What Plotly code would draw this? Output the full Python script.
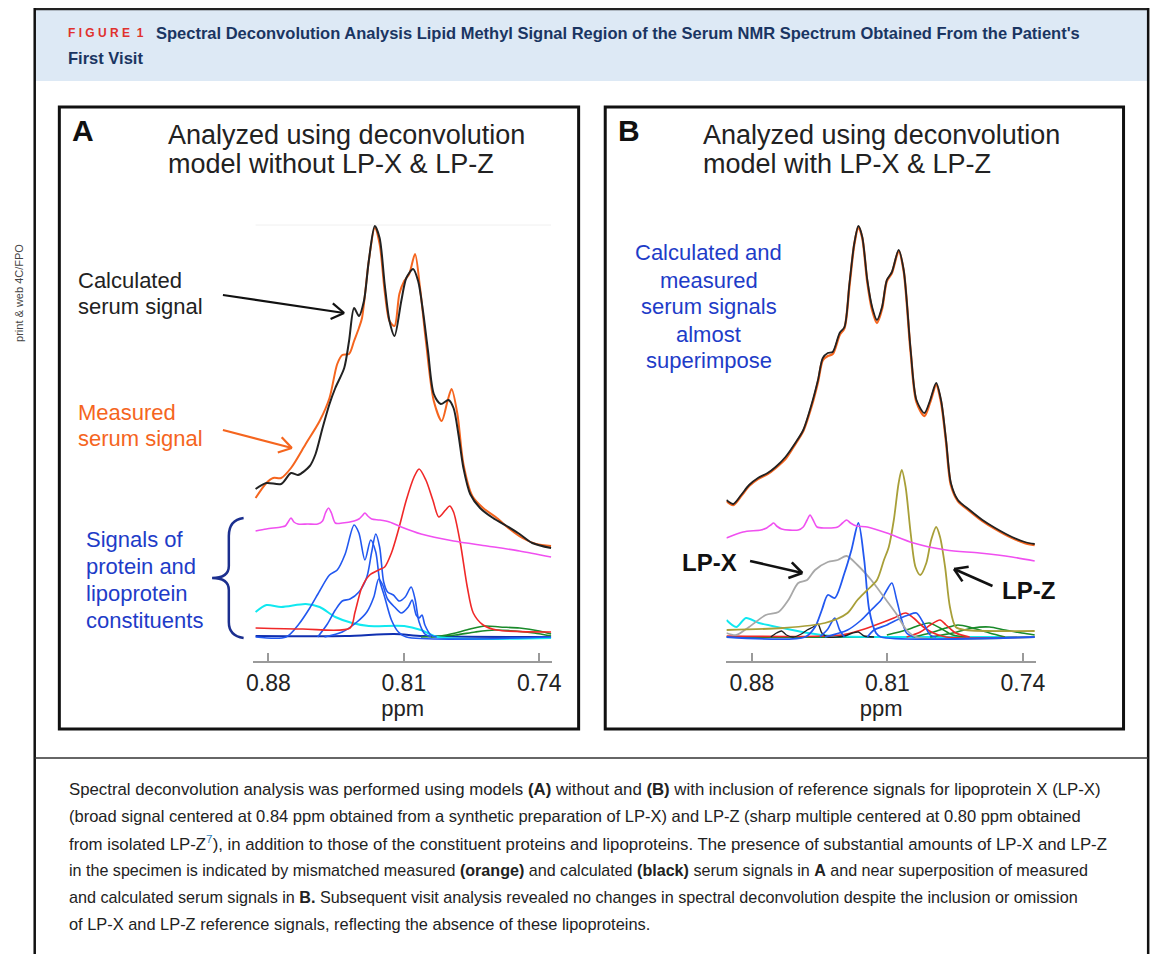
import math
import plotly.graph_objects as go

# the viewer page keeps an 8 px body margin; layout coordinates below are page pixels
OFF = 8
FW, FH = 1162, 954

# ---------------- data: chemical shift (ppm) and intensity (arbitrary units) ----------------
tick_vals = [0.88, 0.81, 0.74]
tick_text = ["0.88", "0.81", "0.74"]

# Panel A (model without LP-X & LP-Z)
A_calc_ppm = [0.8866, 0.8810, 0.8734, 0.8683, 0.8647, 0.8586, 0.8556, 0.8520, 0.8484, 0.8454,
              0.8408, 0.8383, 0.8357, 0.8332, 0.8306, 0.8281, 0.8250, 0.8225, 0.8199, 0.8174,
              0.8148, 0.8113, 0.8087, 0.8052, 0.8026, 0.8001, 0.7975, 0.7945, 0.7909, 0.7869,
              0.7843, 0.7818, 0.7792, 0.7757, 0.7706, 0.7639, 0.7568, 0.7502, 0.7436, 0.7339]
A_calc = [148, 154, 153, 164, 162, 171, 183, 209, 233, 249,
          269, 296, 329, 321, 336, 376, 411, 399, 353, 316,
          301, 336, 359, 368, 356, 326, 286, 243, 233, 237,
          229, 203, 169, 143, 129, 119, 111, 103, 94, 89]

A_meas_ppm = [0.8866, 0.8810, 0.8775, 0.8734, 0.8683, 0.8607, 0.8535, 0.8484, 0.8444, 0.8418,
              0.8383, 0.8357, 0.8332, 0.8316, 0.8281, 0.8250, 0.8225, 0.8199, 0.8174, 0.8148,
              0.8123, 0.8098, 0.8072, 0.8042, 0.8016, 0.7986, 0.7945, 0.7904, 0.7874, 0.7853,
              0.7823, 0.7792, 0.7746, 0.7690, 0.7619, 0.7553, 0.7487, 0.7416, 0.7339]
A_meas = [139, 154, 159, 159, 169, 193, 216, 239, 273, 282,
          283, 296, 309, 319, 376, 409, 393, 346, 316, 311,
          343, 356, 363, 383, 349, 296, 236, 216, 236, 248,
          223, 173, 141, 129, 119, 108, 99, 93, 91]

A_mag_ppm = [0.8866, 0.8810, 0.8734, 0.8713, 0.8698, 0.8683, 0.8668, 0.8647, 0.8596, 0.8545,
             0.8520, 0.8505, 0.8489, 0.8474, 0.8454, 0.8418, 0.8357, 0.8332, 0.8316, 0.8301,
             0.8286, 0.8266, 0.8225, 0.8174, 0.8113, 0.8011, 0.7843, 0.7670, 0.7502, 0.7339]
A_mag = [106, 108, 110, 111, 115, 119, 115, 113, 113, 113,
         116, 124, 129, 124, 114, 114, 116, 118, 121, 124,
         121, 118, 117, 115, 110, 103, 96, 91, 86, 80]

A_red_ppm = [0.8866, 0.8622, 0.8378, 0.8352, 0.8316, 0.8276, 0.8230, 0.8199, 0.8164, 0.8128,
             0.8087, 0.8047, 0.8021, 0.7986, 0.7950, 0.7919, 0.7884, 0.7863, 0.7843, 0.7808,
             0.7772, 0.7741, 0.7690, 0.7619, 0.7339]
A_red = [9, 8, 9, 25, 50, 62, 67, 70, 84, 107,
         137, 160, 168, 157, 137, 120, 127, 131, 125, 94,
         50, 24, 12, 7, 5]

A_cyan_ppm = [0.8866, 0.8810, 0.8734, 0.8607, 0.8535, 0.8454, 0.8367, 0.8281, 0.8098, 0.8011,
              0.7925, 0.7339]
A_cyan = [25, 32, 30, 33, 30, 20, 14, 11, 11, 7, 0, -1]

A_blue1_ppm = [0.8866, 0.8708, 0.8642, 0.8586, 0.8535, 0.8484, 0.8444, 0.8403, 0.8357, 0.8332,
               0.8301, 0.8271, 0.8245, 0.8225, 0.8199, 0.8164, 0.8128, 0.8087, 0.7339]
A_blue1 = [0, 0, 13, 29, 46, 62, 67, 83, 112, 104,
           77, 97, 85, 57, 40, 17, 5, 0, 0]

A_blue2_ppm = [0.8545, 0.8495, 0.8454, 0.8418, 0.8378, 0.8332, 0.8291, 0.8266, 0.8245, 0.8225,
               0.8204, 0.8184, 0.8154, 0.8123, 0.8093, 0.8062, 0.8042, 0.8021, 0.7991, 0.7960]
A_blue2 = [0, 13, 27, 36, 38, 45, 60, 85, 103, 90,
           55, 45, 42, 36, 40, 50, 38, 15, 3, 0]

A_blue3_ppm = [0.8510, 0.8418, 0.8342, 0.8291, 0.8255, 0.8230, 0.8209, 0.8184, 0.8148, 0.8113,
               0.8077, 0.8057, 0.8036, 0.8021, 0.8006, 0.7991, 0.7960, 0.7930]
A_blue3 = [0, 5, 15, 25, 40, 58, 52, 38, 30, 24,
           30, 37, 22, 19, 22, 12, 2, 0]

A_base_ppm = [0.8866, 0.8400, 0.8150, 0.8000, 0.7339]
A_base = [1, 1, 3, 1, 0]

A_green1_ppm = [0.8011, 0.7909, 0.7833, 0.7757, 0.7680, 0.7604, 0.7502, 0.7400, 0.7339]
A_green1 = [0, 1, 4, 8, 11, 10, 9, 6, 3]
A_green2_ppm = [0.7960, 0.7833, 0.7731, 0.7629, 0.7527, 0.7426, 0.7339]
A_green2 = [0, 2, 5, 7, 6, 4, 1]

# faint frame line at the top of panel A's trace area
A_top_ppm = [0.8866, 0.7339]
A_top = [412, 412]

# Panel B (model with LP-X & LP-Z)
B_calc_ppm = [0.8932, 0.8897, 0.8856, 0.8815, 0.8769, 0.8719, 0.8678, 0.8627, 0.8576, 0.8535,
              0.8490, 0.8459, 0.8434, 0.8408, 0.8383, 0.8347, 0.8322, 0.8296, 0.8271, 0.8250,
              0.8230, 0.8204, 0.8179, 0.8154, 0.8128, 0.8103, 0.8077, 0.8042, 0.8016, 0.7980,
              0.7950, 0.7909, 0.7879, 0.7848, 0.7823, 0.7797, 0.7772, 0.7736, 0.7675, 0.7609,
              0.7543, 0.7456, 0.7390, 0.7339]
B_calc = [137, 133, 142, 152, 159, 164, 170, 180, 194, 207,
          234, 257, 279, 284, 285, 304, 310, 354, 394, 411,
          400, 357, 330, 317, 330, 357, 365, 387, 367, 287,
          237, 224, 237, 254, 237, 197, 154, 137, 127, 117,
          109, 100, 95, 93]
B_meas_ppm = [0.8932, 0.8897, 0.8856, 0.8815, 0.8769, 0.8719, 0.8678, 0.8627, 0.8576, 0.8535,
              0.8490, 0.8459, 0.8434, 0.8408, 0.8383, 0.8347, 0.8322, 0.8296, 0.8271, 0.8250,
              0.8230, 0.8204, 0.8179, 0.8154, 0.8128, 0.8103, 0.8077, 0.8042, 0.8016, 0.7980,
              0.7950, 0.7909, 0.7879, 0.7848, 0.7823, 0.7797, 0.7772, 0.7736, 0.7675, 0.7609,
              0.7543, 0.7456, 0.7390, 0.7339]
B_meas = [136, 132, 141, 151, 158, 163, 169, 178, 193, 206,
          232, 255, 277, 281, 283, 302, 309, 352, 393, 410,
          399, 355, 327, 314, 328, 356, 364, 386, 366, 285,
          235, 221, 235, 252, 235, 195, 152, 136, 126, 116,
          108, 99, 94, 92]

B_mag_ppm = [0.8932, 0.8846, 0.8754, 0.8724, 0.8703, 0.8688, 0.8673, 0.8647, 0.8561, 0.8535,
             0.8515, 0.8500, 0.8484, 0.8464, 0.8423, 0.8357, 0.8332, 0.8311, 0.8291, 0.8260,
             0.8204, 0.8103, 0.7965, 0.7797, 0.7624, 0.7456, 0.7339]
B_mag = [99, 105, 107, 109, 112, 114, 111, 108, 107, 110,
         117, 122, 117, 110, 109, 110, 114, 117, 114, 111,
         110, 104, 94, 87, 84, 80, 76]

B_lpx_ppm = [0.8932, 0.8881, 0.8815, 0.8729, 0.8663, 0.8612, 0.8561, 0.8515, 0.8474, 0.8408,
             0.8357, 0.8311, 0.8255, 0.8184, 0.8118, 0.8057, 0.8001, 0.7950, 0.7339]
B_lpx = [4, 2, 10, 22, 25, 37, 54, 57, 67, 75,
         77, 81, 72, 57, 40, 24, 7, 0, 0]

B_lpz_ppm = [0.8932, 0.8642, 0.8423, 0.8306, 0.8255, 0.8204, 0.8154, 0.8118, 0.8093, 0.8067,
             0.8042, 0.8026, 0.8006, 0.7980, 0.7955, 0.7930, 0.7899, 0.7874, 0.7848, 0.7828,
             0.7802, 0.7777, 0.7747, 0.7695, 0.7339]
B_lpz = [7, 9, 14, 24, 37, 47, 57, 77, 90, 117,
         154, 167, 150, 104, 70, 62, 74, 97, 110, 100,
         70, 30, 10, 7, 6]

B_blue1_ppm = [0.8932, 0.8525, 0.8474, 0.8439, 0.8408, 0.8372, 0.8322, 0.8286, 0.8250, 0.8220,
               0.8194, 0.8159, 0.8133, 0.7339]
B_blue1 = [0, 0, 10, 27, 42, 39, 64, 87, 114, 77, 27, 4, 0, 0]

B_blue2_ppm = [0.8423, 0.8306, 0.8235, 0.8184, 0.8133, 0.8103, 0.8077, 0.8052, 0.8026, 0.8001, 0.7965]
B_blue2 = [0, 7, 17, 27, 37, 47, 54, 37, 17, 4, 0]

B_blue3_ppm = [0.8449, 0.8408, 0.8372, 0.8347, 0.8322]
B_blue3 = [0, 8, 19, 7, 0]

B_blue4_ppm = [0.8204, 0.8169, 0.8103, 0.8031, 0.7991, 0.7950, 0.7914, 0.7879, 0.7848]
B_blue4 = [0, 7, 12, 19, 22, 24, 14, 2, 0]

B_red1_ppm = [0.8932, 0.8337, 0.8235, 0.8133, 0.8067, 0.8006, 0.7965, 0.7914, 0.7863, 0.7797, 0.7339]
B_red1 = [1, 2, 7, 14, 19, 24, 19, 10, 4, 0, 0]
B_red2_ppm = [0.8001, 0.7930, 0.7879, 0.7828, 0.7797, 0.7747, 0.7675]
B_red2 = [0, 5, 12, 17, 12, 4, 0]

B_green1_ppm = [0.8103, 0.8001, 0.7930, 0.7884, 0.7828, 0.7762, 0.7695]
B_green1 = [2, 7, 12, 14, 9, 2, 0]
B_green2_ppm = [0.7965, 0.7879, 0.7797, 0.7736, 0.7660, 0.7573, 0.7492]
B_green2 = [0, 4, 9, 12, 9, 4, 0]
B_green3_ppm = [0.7879, 0.7762, 0.7660, 0.7573, 0.7492, 0.7405, 0.7339]
B_green3 = [0, 4, 9, 10, 7, 4, 2]
B_gbase_ppm = [0.8932, 0.7339]
B_gbase = [0, 0]

B_blk_ppm = [0.8703, 0.8673, 0.8647, 0.8622, 0.8586, 0.8545, 0.8515, 0.8484, 0.8459, 0.8439,
             0.8408, 0.8322, 0.8281, 0.8250, 0.8220, 0.8169]
B_blk = [0, 4, 6, 2, 0, 3, 7, 10, 13, 4, 0, 1, 4, 5, 1, 0]

B_cyan_ppm = [0.8932, 0.8881, 0.8831, 0.8764, 0.8642, 0.8510, 0.8388, 0.8133, 0.7339]
B_cyan = [17, 10, 19, 14, 9, 4, 1, 0, 0]

# ---------------- colours ----------------
C_BLACK = "#222222"
C_ORANGE = "#F5651E"
C_MAG = "#F050F0"
C_RED = "#F02828"
C_BLUE = "#2258F0"
C_DBLUE = "#1030B0"
C_CYAN = "#10E8F0"
C_GREEN = "#1A8A2A"
C_GRAY = "#A8A8A8"
C_OLIVE = "#A89F38"
C_TXTBLUE = "#1E3CC8"

fig = go.Figure()


def add(ppm, val, color, width, panel, shape="spline"):
    xa, ya = ("x", "y") if panel == "A" else ("x2", "y2")
    fig.add_trace(go.Scatter(x=ppm, y=val, mode="lines", xaxis=xa, yaxis=ya,
                             line=dict(color=color, width=width, shape=shape, smoothing=0.8),
                             hoverinfo="skip", showlegend=False))


# panel A traces
add(A_top_ppm, A_top, "#F0F0F0", 1, "A", "linear")
add(A_base_ppm, A_base, C_DBLUE, 2, "A")
add(A_green1_ppm, A_green1, C_GREEN, 1.6, "A")
add(A_green2_ppm, A_green2, C_GREEN, 1.6, "A")
add(A_cyan_ppm, A_cyan, C_CYAN, 2, "A")
add(A_blue3_ppm, A_blue3, C_BLUE, 1.6, "A")
add(A_blue2_ppm, A_blue2, C_BLUE, 1.6, "A")
add(A_blue1_ppm, A_blue1, C_BLUE, 1.6, "A")
add(A_red_ppm, A_red, C_RED, 1.6, "A")
add(A_mag_ppm, A_mag, C_MAG, 1.6, "A")
add(A_meas_ppm, A_meas, C_ORANGE, 2, "A")
add(A_calc_ppm, A_calc, C_BLACK, 2, "A")

# panel B traces
add(B_gbase_ppm, B_gbase, C_GREEN, 2, "B")
add(B_cyan_ppm, B_cyan, C_CYAN, 2, "B")
add(B_green1_ppm, B_green1, C_GREEN, 1.6, "B")
add(B_green2_ppm, B_green2, C_GREEN, 1.6, "B")
add(B_green3_ppm, B_green3, C_GREEN, 1.6, "B")
add(B_red1_ppm, B_red1, C_RED, 1.6, "B")
add(B_red2_ppm, B_red2, C_RED, 1.6, "B")
add(B_blk_ppm, B_blk, C_BLACK, 1.4, "B")
add(B_blue3_ppm, B_blue3, C_BLUE, 1.6, "B")
add(B_blue4_ppm, B_blue4, C_BLUE, 1.6, "B")
add(B_blue2_ppm, B_blue2, C_BLUE, 1.6, "B")
add(B_lpx_ppm, B_lpx, C_GRAY, 1.8, "B")
add(B_blue1_ppm, B_blue1, C_BLUE, 1.8, "B")
add(B_lpz_ppm, B_lpz, C_OLIVE, 1.8, "B")
add(B_mag_ppm, B_mag, C_MAG, 1.6, "B")
add(B_meas_ppm, B_meas, C_ORANGE, 2.4, "B")
add(B_calc_ppm, B_calc, C_BLACK, 1.8, "B")


def px(x):
    return (x - OFF) / FW


def py(y):
    return 1 - (y - OFF) / FH


ARIAL = "Liberation Sans, Arial, sans-serif"

axis_common = dict(showgrid=False, zeroline=False, showline=True, linecolor="#9a9a9a", linewidth=2,
                   ticks="inside", ticklen=8, tickwidth=2, tickcolor="#9a9a9a",
                   tickvals=tick_vals, ticktext=tick_text, ticklabelstandoff=0,
                   tickfont=dict(family=ARIAL, size=23, color="#222"),
                   title=dict(text="ppm", standoff=0, font=dict(family=ARIAL, size=22, color="#222")),
                   fixedrange=True)
yaxis_common = dict(visible=False, range=[-24, 441], domain=[py(661), py(196)], fixedrange=True)

fig.update_layout(
    width=FW, height=FH, margin=dict(l=0, r=0, t=0, b=0),
    paper_bgcolor="white", plot_bgcolor="rgba(0,0,0,0)", showlegend=False,
    xaxis=dict(domain=[px(250), px(553)], range=[0.8877, 0.7334], anchor="y", **axis_common),
    yaxis=dict(anchor="x", **yaxis_common),
    xaxis2=dict(domain=[px(730), px(1044)], range=[0.8932, 0.7333], anchor="y2", **axis_common),
    yaxis2=dict(anchor="x2", **yaxis_common),
)

shapes = []


def line(x0, y0, x1, y1, color, width):
    shapes.append(dict(type="line", xref="paper", yref="paper", x0=px(x0), y0=py(y0), x1=px(x1), y1=py(y1),
                       line=dict(color=color, width=width), layer="above"))


def arrow(x0, y0, x1, y1, color, width=2.2, head=15, ang=32):
    line(x0, y0, x1, y1, color, width)
    a = math.atan2(y1 - y0, x1 - x0)
    for s in (1, -1):
        b = a + math.pi + s * math.radians(ang)
        line(x1, y1, x1 + head * math.cos(b), y1 + head * math.sin(b), color, width)


RIGHT = 1158
# header band and frame
shapes.append(dict(type="rect", xref="paper", yref="paper", x0=px(28), x1=px(RIGHT), y0=py(81), y1=py(8),
                   fillcolor="#DDE9F5", line=dict(width=0), layer="below"))
line(28, 9, RIGHT, 9, "#222", 2.5)
line(28, 8, 28, 960, "#111", 2.5)
line(RIGHT, 8, RIGHT, 960, "#111", 2.5)
line(28, 758, RIGHT, 758, "#333", 1.5)
# panel frames
for (l, r) in [(53, 580), (607, 1133)]:
    shapes.append(dict(type="rect", xref="paper", yref="paper", x0=px(l), x1=px(r), y0=py(729), y1=py(107),
                       line=dict(color="#111", width=3), fillcolor="rgba(0,0,0,0)", layer="above"))

# arrows
arrow(219, 295, 342, 313, "#111")
arrow(219, 430, 289, 448, C_ORANGE)
arrow(754, 561, 807, 573, "#111", 2.6)
arrow(1000, 586, 961, 569, "#111", 2.6)

# curly brace
bp = [(240, 518), (225, 520), (225, 536), (225, 566), (225, 578), (208, 578),
      (225, 578), (225, 590), (225, 622), (225, 636), (240, 638)]
path = "M {},{} Q {},{} {},{} L {},{} Q {},{} {},{} Q {},{} {},{} L {},{} Q {},{} {},{}".format(
    *[v for p in bp for v in (round(px(p[0]), 5), round(py(p[1]), 5))])
shapes.append(dict(type="path", xref="paper", yref="paper", path=path,
                   line=dict(color="#1B2F8F", width=2.5), layer="above"))

fig.update_layout(shapes=shapes)

ann = []


def text(x, y, s, size, color="#222", anchor="left", family=ARIAL, angle=0):
    ann.append(dict(xref="paper", yref="paper", x=px(x), y=py(y), text=s, showarrow=False,
                    xanchor=anchor, yanchor="middle", textangle=angle,
                    font=dict(family=family, size=size, color=color)))


# header
text(60, 33, "<b>F I G U R E  1</b>", 12, "#E0312E")
text(149, 33, "<b>Spectral Deconvolution Analysis Lipid Methyl Signal Region of the Serum NMR Spectrum Obtained From the Patient's</b>",
     16.5, "#1A3562")
text(60, 58, "<b>First Visit</b>", 16.5, "#1A3562")
text(12, 293, "print & web 4C/FPO", 11, "#444", anchor="center", angle=-90)

# panel A
text(64, 131, "<b>A</b>", 30, "#111")
text(161, 135, "Analyzed using deconvolution", 27, "#222")
text(161, 164, "model without LP-X & LP-Z", 27, "#222")
text(70, 280, "Calculated", 22, "#222")
text(70, 307, "serum signal", 22, "#222")
text(70, 412, "Measured", 22, C_ORANGE)
text(70, 439, "serum signal", 22, C_ORANGE)
for i, s in enumerate(["Signals of", "protein and", "lipoprotein", "constituents"]):
    text(78, 539 + 27 * i, s, 22, C_TXTBLUE)

# panel B
text(618, 131, "<b>B</b>", 30, "#111")
text(704, 135, "Analyzed using deconvolution", 27, "#222")
text(704, 164, "model with LP-X & LP-Z", 27, "#222")
for i, s in enumerate(["Calculated and", "measured", "serum signals", "almost", "superimpose"]):
    text(712, 253 + 27 * i, s, 22, C_TXTBLUE, anchor="center")
text(683, 562, "<b>LP-X</b>", 24, "#111")
text(1008, 590, "<b>LP-Z</b>", 24, "#111")

# caption
caption_lines = [
    "Spectral deconvolution analysis was performed using models <b>(A)</b> without and <b>(B)</b> with inclusion of reference signals for lipoprotein X (LP-X)",
    "(broad signal centered at 0.84 ppm obtained from a synthetic preparation of LP-X) and LP-Z (sharp multiple centered at 0.80 ppm obtained",
    "from isolated LP-Z<sup><span style='color:#2E7DB5'>7</span></sup>), in addition to those of the constituent proteins and lipoproteins. The presence of substantial amounts of LP-X and LP-Z",
    "in the specimen is indicated by mismatched measured <b>(orange)</b> and calculated <b>(black)</b> serum signals in <b>A</b> and near superposition of measured",
    "and calculated serum signals in <b>B.</b> Subsequent visit analysis revealed no changes in spectral deconvolution despite the inclusion or omission",
    "of LP-X and LP-Z reference signals, reflecting the absence of these lipoproteins.",
]
caption_sizes = [16.8, 16.5, 16.8, 16.1, 16.2, 16.4]
for i, s in enumerate(caption_lines):
    text(61, 789 + 27 * i, s, caption_sizes[i], "#222")

fig.update_layout(annotations=ann)
fig.write_html("out.html")
